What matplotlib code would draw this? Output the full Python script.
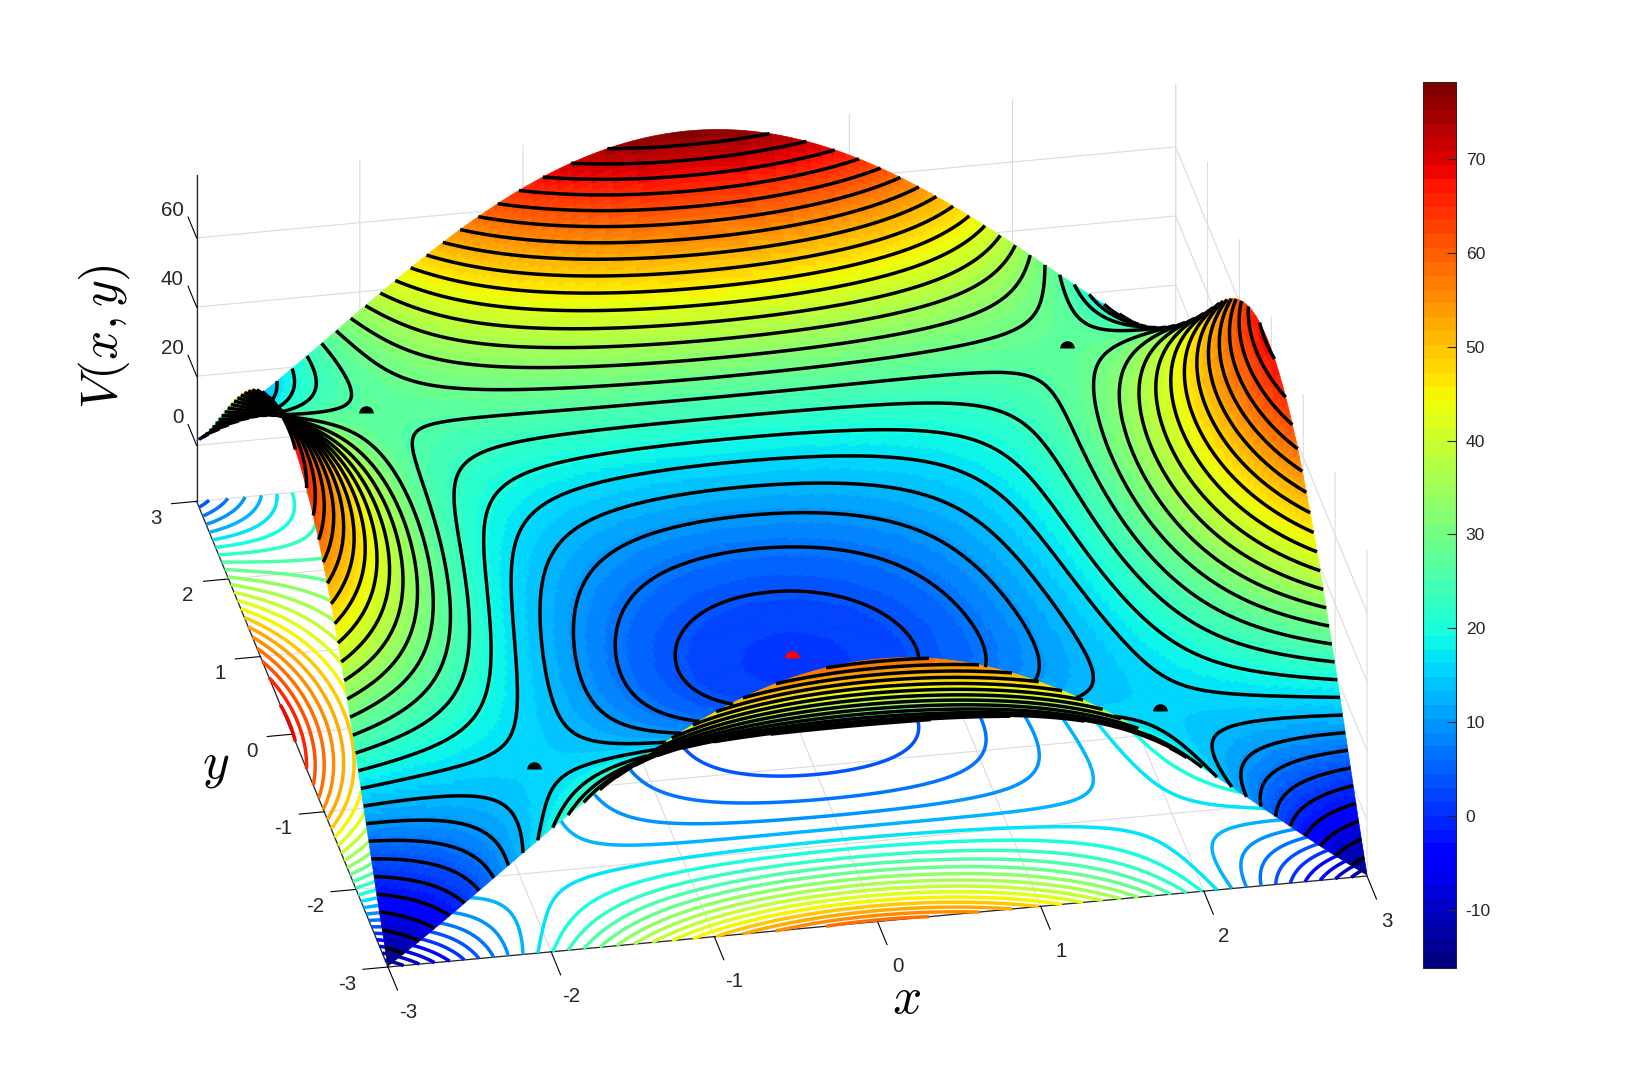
import numpy as np
import matplotlib
matplotlib.use("Agg")
import matplotlib.pyplot as plt
from matplotlib.cm import ScalarMappable
from matplotlib.colors import Normalize
from matplotlib.transforms import ScaledTranslation
from numpy.polynomial import polynomial as P
from mpl_toolkits.mplot3d import proj3d
from mpl_toolkits.mplot3d.art3d import Line3DCollection

plt.rcParams["font.family"] = ["Liberation Sans", "DejaVu Sans"]
plt.rcParams["mathtext.fontset"] = "cm"
plt.rcParams["axes.unicode_minus"] = False

# ---- values (V on a 0.5-spaced grid) -----------------------------------------
x_values = [-3, -2.5, -2, -1.5, -1, -0.5, 0, 0.5, 1, 1.5, 2, 2.5, 3]
y_values = [-3, -2.5, -2, -1.5, -1, -0.5, 0, 0.5, 1, 1.5, 2, 2.5, 3]
V_rows = [
    [-15.9, 1.3, 19.3, 35.6, 48.6, 56.9, 59.7, 56.9, 48.6, 35.6, 19.3, 1.3, -15.9],
    [2.8, 8.2, 15.4, 22.8, 29.0, 33.1, 34.5, 33.1, 29.0, 22.8, 15.4, 8.2, 2.8],
    [22.3, 16.9, 15.2, 15.5, 16.6, 17.6, 18.0, 17.6, 16.6, 15.5, 15.2, 16.9, 22.3],
    [40.1, 25.8, 17.2, 12.4, 9.6, 8.3, 7.9, 8.3, 9.6, 12.4, 17.2, 25.8, 40.1],
    [54.6, 33.5, 20.0, 11.6, 6.3, 3.6, 2.9, 3.6, 6.3, 11.6, 20.0, 33.5, 54.6],
    [64.4, 39.1, 22.6, 12.2, 5.3, 1.9, 0.9, 1.9, 5.3, 12.2, 22.6, 39.1, 64.4],
    [68.7, 42.0, 24.8, 13.9, 6.2, 2.9, 1.9, 2.9, 6.2, 13.9, 24.8, 42.0, 68.7],
    [67.4, 42.1, 25.9, 15.6, 8.8, 6.0, 5.0, 6.0, 8.8, 15.6, 25.9, 42.1, 67.4],
    [60.6, 39.5, 26.2, 18.2, 12.6, 9.8, 9.0, 9.8, 12.6, 18.2, 26.2, 39.5, 60.6],
    [49.1, 34.8, 26.4, 22.0, 18.8, 17.4, 16.9, 17.4, 18.8, 22.0, 26.4, 34.8, 49.1],
    [33.5, 28.6, 27.6, 27.7, 28.6, 29.6, 30.0, 29.6, 28.6, 27.7, 27.6, 28.9, 34.3],
    [16.5, 21.0, 28.5, 36.5, 43.3, 47.9, 49.5, 48.1, 44.0, 37.8, 30.4, 23.2, 17.8],
    [1.5, 16.7, 34.8, 51.8, 65.6, 74.5, 77.7, 74.9, 66.4, 53.0, 36.5, 18.6, 2.2],
]
saddle_x = [-1.92, 1.92, -2.16, 2.14]
saddle_y = [-2.05, -2.05, 2.0, 2.0]
saddle_V = [15.0, 15.0, 28.0, 28.0]
minimum_x = [-0.01]
minimum_y = [-0.36]
minimum_V = [0.7]
x_ticks = [-3, -2, -1, 0, 1, 2, 3]
y_ticks = [-3, -2, -1, 0, 1, 2, 3]
z_ticks = [0, 20, 40, 60]
cbar_ticks = [-10, 0, 10, 20, 30, 40, 50, 60, 70]
V_low, V_high = -16.2, 78.2

# ---- the table is rendered smoothly by a least-squares tensor polynomial through it
gx, gy = np.meshgrid(x_values, y_values)
vander = P.polyvander2d(gx.ravel() / 3, gy.ravel() / 3, [6, 6])
coef = np.linalg.lstsq(vander, np.array(V_rows).ravel(), rcond=None)[0].reshape(7, 7)


def sample(n):
    a = np.linspace(-3, 3, n)
    X, Y = np.meshgrid(a, a)
    return X, Y, P.polyval2d(X / 3, Y / 3, coef)


XS, YS, ZS = sample(241)
XC, YC, ZC = sample(601)
levels = np.linspace(-16, 78, 30)[1:-1]

cmap = plt.get_cmap("jet", 64)
norm = Normalize(V_low, V_high)

fig = plt.figure(figsize=(16.38, 10.88), dpi=100, facecolor="white")
ax = fig.add_axes([0.1, 0.1, 0.7, 0.7 * 1638 / 1088], projection="3d", computed_zorder=False)
ax.set_proj_type("ortho")
ELEV, AZIM = 28.4, -101.06
ASPECT_Z = 0.372
ax.view_init(elev=ELEV, azim=AZIM)
ax.set_box_aspect((1, 1, ASPECT_Z))

# coloured contours on the floor, below the surface
ax.contour(XC, YC, ZC, levels=levels, cmap=cmap, norm=norm, zdir="z", offset=V_low,
           linewidths=2.5, zorder=1)
surf = ax.plot_surface(XS, YS, ZS, rstride=1, cstride=1, cmap=cmap, norm=norm, shade=False,
                       linewidth=0.5, antialiased=True, zorder=2)
surf.set_edgecolor("face")

# black contours on the surface, keeping only the parts the camera can see:
# a point is hidden when the ray towards the camera crosses the surface
tmp = plt.figure()
segs_all = [s for lev, group in zip(levels, tmp.add_subplot().contour(XC, YC, ZC, levels=levels).allsegs)
            for s in [(lev, g) for g in group]]
plt.close(tmp)
az, el = np.radians(AZIM), np.radians(ELEV)
cam = np.array([np.cos(el) * np.cos(az), np.cos(el) * np.sin(az), np.sin(el)])
nC = ZC.shape[0]
ZB = (ZC - V_low) / (V_high - V_low) * ASPECT_Z
pts = np.vstack([g for _, g in segs_all])
zlev = np.concatenate([np.full(len(g), lev) for lev, g in segs_all])
px, py = (pts[:, 0] + 3) / 6, (pts[:, 1] + 3) / 6
pz = (zlev - V_low) / (V_high - V_low) * ASPECT_Z


def lookup(field, rx, ry):
    fx = np.clip(rx, 0, 1) * (nC - 1)
    fy = np.clip(ry, 0, 1) * (nC - 1)
    j = np.minimum(fx.astype(int), nC - 2)
    i = np.minimum(fy.astype(int), nC - 2)
    a, b = fx - j, fy - i
    return ((1 - a) * (1 - b) * field[i, j] + a * (1 - b) * field[i, j + 1]
            + (1 - a) * b * field[i + 1, j] + a * b * field[i + 1, j + 1])


dZdy, dZdx = np.gradient(ZB, 1 / (nC - 1))
rise = cam[2] - lookup(dZdx, px, py) * cam[0] - lookup(dZdy, px, py) * cam[1]
starts_above = rise >= 0
occluded = np.zeros(len(px), bool)
for t in np.arange(0.004, 0.8, 0.003):
    rx, ry, rz = px + t * cam[0], py + t * cam[1], pz + t * cam[2]
    inside = (rx >= 0) & (rx <= 1) & (ry >= 0) & (ry <= 1)
    d = rz - lookup(ZB, rx, ry)
    occluded |= inside & ((starts_above & (d < -0.001)) | (~starts_above & (d > 0.001)))
runs = []
k = 0
for lev, g in segs_all:
    vis = ~occluded[k:k + len(g)]
    k += len(g)
    idx = np.flatnonzero(np.diff(np.r_[0, vis.astype(int), 0]))
    for a, b in zip(idx[::2], idx[1::2]):
        if b - a >= 2:
            runs.append(np.column_stack([g[a:b], np.full(b - a, lev)]))
ax.add_collection3d(Line3DCollection(runs, colors="k", linewidths=2.5, capstyle="butt", zorder=3), autolim=False)

ax.plot(saddle_x, saddle_y, saddle_V, ls="none", marker="o", fillstyle="top", ms=10.5,
        markerfacecolor="k", markerfacecoloralt="none", markeredgewidth=0, zorder=4)
ax.plot(minimum_x, minimum_y, minimum_V, ls="none", marker="o", fillstyle="top", ms=10.5,
        markerfacecolor="#ff0000", markerfacecoloralt="none", markeredgewidth=0, zorder=4)

ax.set_xlim(-3, 3)
ax.set_ylim(-3, 3)
ax.set_zlim(V_low, V_high)
ax.set_xticks(x_ticks)
ax.set_yticks(y_ticks)
ax.set_zticks(z_ticks)
ax.tick_params(axis="x", labelsize=14.8, labelcolor="#262626", pad=13)
ax.tick_params(axis="y", labelsize=14.8, labelcolor="#262626", pad=13)
ax.tick_params(axis="z", labelsize=14.8, labelcolor="#262626", pad=6)
for axis, t_in, t_out in ((ax.xaxis, 0.62, 0.0), (ax.yaxis, 0.32, 0.0), (ax.zaxis, 0.0, 0.56)):
    axis.set_pane_color((1, 1, 1, 0))
    axis.pane.set_edgecolor((1, 1, 1, 0))
    axis._axinfo["grid"].update(color="#dcdcdc", linewidth=0.8)
    axis._axinfo["axisline"]["color"] = "#262626"
    axis._axinfo["tick"].update(inward_factor=t_in, outward_factor=t_out, color="#262626",
                                linewidth={True: 0.8, False: 0.5})
    axis.line.set_linewidth(0.9)
    axis.line.set_color("#262626")
ax.zaxis._get_tickdir = lambda pos: 1  # z ticks run along y in the reference
for tick in ax.zaxis.get_major_ticks():
    tick.label1.set_ha("right")


# nudge the tick labels (pixels right, pixels down) to the reference's places;
# Axis3D.get_major_ticks resets the transforms, so the nudge is re-applied there
def nudge_labels(axis, dx, dy):
    original = axis.get_major_ticks
    shifted = ax.transData + ScaledTranslation(dx / 100, -dy / 100, fig.dpi_scale_trans)

    def get_major_ticks(numticks=None):
        ticks = original(numticks)
        for tick in ticks:
            tick.label1.set_transform(shifted)
        return ticks

    axis.get_major_ticks = get_major_ticks


nudge_labels(ax.xaxis, 12.5, 4.2)
nudge_labels(ax.yaxis, -2, -9)
nudge_labels(ax.zaxis, 18, -27)
ax.grid(True)
ax.patch.set_alpha(0)

ax.text2D(906 / 1638, 1 - 1000 / 1088, "$x$", transform=fig.transFigure, fontsize=37, ha="center", va="center")
ax.text2D(216 / 1638, 1 - 766 / 1088, "$y$", transform=fig.transFigure, fontsize=37, ha="center", va="center")
ax.text2D(104 / 1638, 1 - 337 / 1088, "$V(x,y)$", transform=fig.transFigure, fontsize=37, rotation=90,
          ha="center", va="center")


# fit the box onto the reference's floor corners (pixels from the image top)
def screen(x, y, z):
    ax.apply_aspect()
    sx, sy, _ = proj3d.proj_transform(x, y, z, ax.get_proj())
    d = ax.transData.transform((sx, sy))
    return np.array([d[0], 1088 - d[1]])


target_O, target_R = np.array([388.0, 967.0]), np.array([1367.0, 876.0])
for _ in range(4):
    O, R = screen(-3, -3, V_low), screen(3, -3, V_low)
    r = np.linalg.norm(target_R - target_O) / np.linalg.norm(R - O)
    p = ax.get_position(original=True)
    w, h = p.width * r, p.height * r
    ax.set_position([p.x0 - (w - p.width) / 2, p.y0 - (h - p.height) / 2, w, h])
    O = screen(-3, -3, V_low)
    p = ax.get_position(original=True)
    ax.set_position([p.x0 + (target_O[0] - O[0]) / 1638, p.y0 - (target_O[1] - O[1]) / 1088, p.width, p.height])

cax = fig.add_axes([1423 / 1638, 1 - 968 / 1088, 33 / 1638, 886 / 1088])
cb = fig.colorbar(ScalarMappable(norm=norm, cmap=cmap), cax=cax)
cb.set_ticks(cbar_ticks)
cb.ax.tick_params(direction="in", length=6.5, width=0.8, labelsize=12.6, labelcolor="#262626", color="#262626", pad=7)
cb.outline.set_linewidth(0.8)
cb.outline.set_edgecolor("#262626")

fig.savefig("out.png", dpi=100, facecolor="white")
